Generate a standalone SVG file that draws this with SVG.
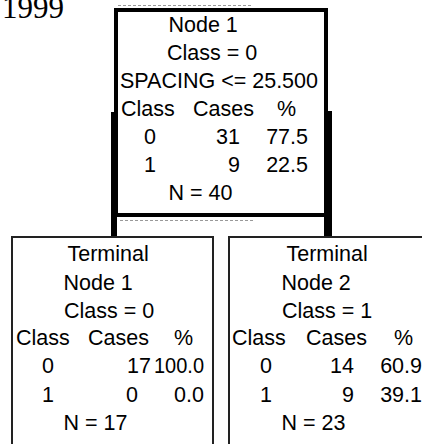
<svg xmlns="http://www.w3.org/2000/svg" width="422" height="444" viewBox="0 0 422 444">
<style>
text{font-family:"Liberation Sans",Arial,sans-serif;font-size:21.5px;fill:#000}
.e{text-anchor:end}
.term{fill:#fff;stroke:#222;stroke-width:2}
.main{fill:#fff;stroke:#000;stroke-width:4}
.conn{stroke:#000;fill:none}
.art{stroke:#999;stroke-width:1;stroke-dasharray:3 2;fill:none}
</style>
<rect width="422" height="444" fill="#fff"/>
<text x="2" y="18" style="font-family:'Liberation Serif','Times New Roman',serif;font-size:31px">1999</text>
<path class="art" d="M118 5.5H253M120 220.5H255"/>
<g id="connectors">
<line class="conn" x1="114" y1="112" x2="114" y2="237" stroke-width="6"/>
<line class="conn" x1="328" y1="111" x2="328" y2="237" stroke-width="8"/>
</g>
<g id="node1">
<rect class="main" x="116" y="10" width="210" height="205"/>
<text x="168.5" y="32">Node 1</text>
<text x="167" y="60">Class = 0</text>
<text x="120" y="88">SPACING &lt;= 25.500</text>
<text x="121" y="116">Class</text>
<text x="193" y="116">Cases</text>
<text x="277" y="116">%</text>
<text x="144" y="144">0</text>
<text class="e" x="240" y="144">31</text>
<text class="e" x="308" y="144">77.5</text>
<text x="144" y="172">1</text>
<text class="e" x="240" y="172">9</text>
<text class="e" x="308" y="172">22.5</text>
<text x="168.5" y="200">N = 40</text>
</g>
<g id="terminal1">
<rect class="term" x="12" y="237" width="201" height="220"/>
<text x="67.5" y="261">Terminal</text>
<text x="63.5" y="290">Node 1</text>
<text x="64" y="318">Class = 0</text>
<text x="16" y="345">Class</text>
<text x="88" y="345">Cases</text>
<text x="174" y="345">%</text>
<text x="42" y="373">0</text>
<text class="e" x="151" y="373">17</text>
<text class="e" x="204" y="373" textLength="50" lengthAdjust="spacingAndGlyphs">100.0</text>
<text x="42" y="402">1</text>
<text class="e" x="138" y="402">0</text>
<text class="e" x="204" y="402">0.0</text>
<text x="63.5" y="430">N = 17</text>
</g>
<g id="terminal2">
<rect class="term" x="229" y="237" width="220" height="220"/>
<text x="286.5" y="261">Terminal</text>
<text x="281.5" y="290">Node 2</text>
<text x="282" y="318">Class = 1</text>
<text x="232" y="345">Class</text>
<text x="306" y="345">Cases</text>
<text x="394" y="345">%</text>
<text x="260" y="373">0</text>
<text class="e" x="354" y="373">14</text>
<text class="e" x="422" y="373">60.9</text>
<text x="260" y="402">1</text>
<text class="e" x="354" y="402">9</text>
<text class="e" x="422" y="402">39.1</text>
<text x="281.5" y="430">N = 23</text>
</g>
</svg>
